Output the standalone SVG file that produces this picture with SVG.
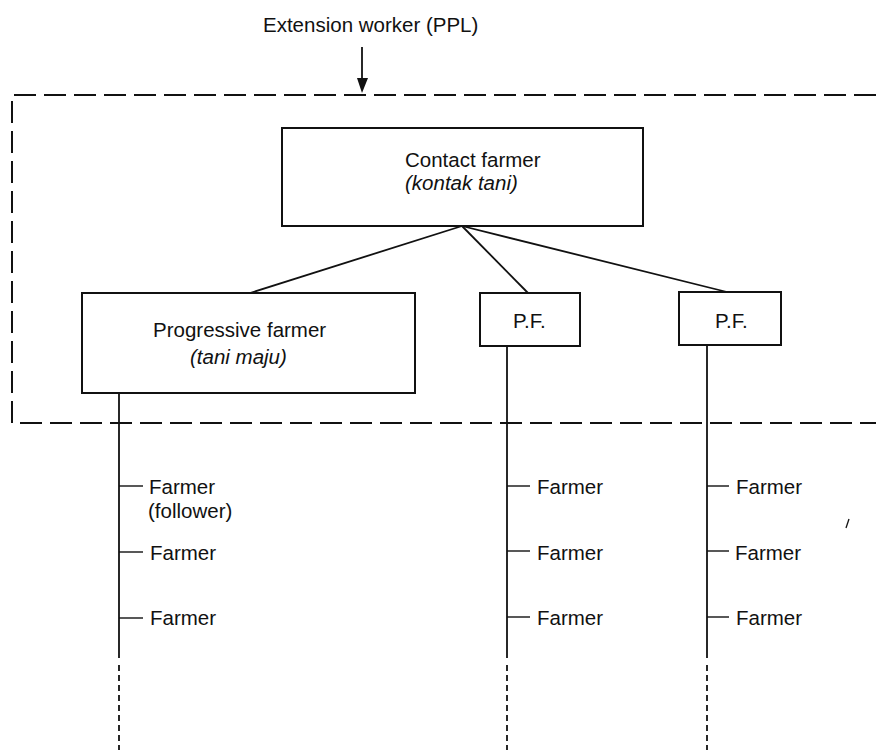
<svg xmlns="http://www.w3.org/2000/svg" width="876" height="750" viewBox="0 0 876 750">
<style>
text{font-family:"Liberation Sans",Arial,sans-serif;font-size:20.5px;fill:#111}
.it{font-style:italic}
.box{fill:#fff;stroke:#111;stroke-width:2}
.ln{stroke:#111;stroke-width:1.8;fill:none}
.tick{stroke:#111;stroke-width:1.4}
.dash{stroke:#111;stroke-width:2;fill:none;stroke-dasharray:22 8}
.vdash{stroke:#111;stroke-width:1.8;stroke-dasharray:6 4}
</style>
<rect width="876" height="750" fill="#fff"/>
<g id="boundary">
<path class="dash" d="M876,95 H12 V423 H876"/>
</g>
<g id="extension-worker">
<text x="263" y="32">Extension worker (PPL)</text>
</g>
<g id="connectors">
<line class="ln" x1="362" y1="47" x2="362" y2="80"/>
<polygon points="357,78 368,78 362,93" fill="#111"/>
<line class="ln" x1="462" y1="226" x2="250" y2="293"/>
<line class="ln" x1="462" y1="226" x2="528" y2="293"/>
<line class="ln" x1="462" y1="226" x2="727" y2="292"/>
<line class="ln" x1="119" y1="393" x2="119" y2="658"/>
<line class="ln" x1="507" y1="346" x2="507" y2="658"/>
<line class="ln" x1="707" y1="345" x2="707" y2="658"/>
<line class="vdash" x1="119" y1="665" x2="119" y2="750"/>
<line class="vdash" x1="507" y1="665" x2="507" y2="750"/>
<line class="vdash" x1="707" y1="665" x2="707" y2="750"/>
<line class="tick" x1="119" y1="486" x2="143" y2="486"/>
<line class="tick" x1="119" y1="552" x2="143" y2="552"/>
<line class="tick" x1="119" y1="618" x2="143" y2="618"/>
<line class="tick" x1="507" y1="486" x2="530" y2="486"/>
<line class="tick" x1="507" y1="551" x2="530" y2="551"/>
<line class="tick" x1="507" y1="617" x2="530" y2="617"/>
<line class="tick" x1="707" y1="486" x2="729" y2="486"/>
<line class="tick" x1="707" y1="551" x2="729" y2="551"/>
<line class="tick" x1="707" y1="617" x2="729" y2="617"/>
</g>
<g id="contact-farmer">
<rect class="box" x="282" y="128" width="361" height="98"/>
<text x="405" y="167">Contact farmer</text>
<text class="it" x="405" y="190">(kontak tani)</text>
</g>
<g id="progressive-farmer">
<rect class="box" x="82" y="293" width="333" height="100"/>
<text x="153" y="337">Progressive farmer</text>
<text class="it" x="190" y="364">(tani maju)</text>
</g>
<g id="pf1">
<rect class="box" x="480" y="293" width="100" height="53"/>
<text x="513" y="328">P.F.</text>
</g>
<g id="pf2">
<rect class="box" x="679" y="292" width="102" height="53"/>
<text x="715" y="328">P.F.</text>
</g>
<g id="farmers-pf">
<text x="149" y="494">Farmer</text>
<text x="148" y="518">(follower)</text>
<text x="150" y="560">Farmer</text>
<text x="150" y="625">Farmer</text>
</g>
<g id="farmers-pf1">
<text x="537" y="494">Farmer</text>
<text x="537" y="560">Farmer</text>
<text x="537" y="625">Farmer</text>
</g>
<g id="farmers-pf2">
<text x="736" y="494">Farmer</text>
<text x="735" y="560">Farmer</text>
<text x="736" y="625">Farmer</text>
</g>
<line x1="846" y1="528" x2="849" y2="519" stroke="#111" stroke-width="1.3"/>
</svg>
